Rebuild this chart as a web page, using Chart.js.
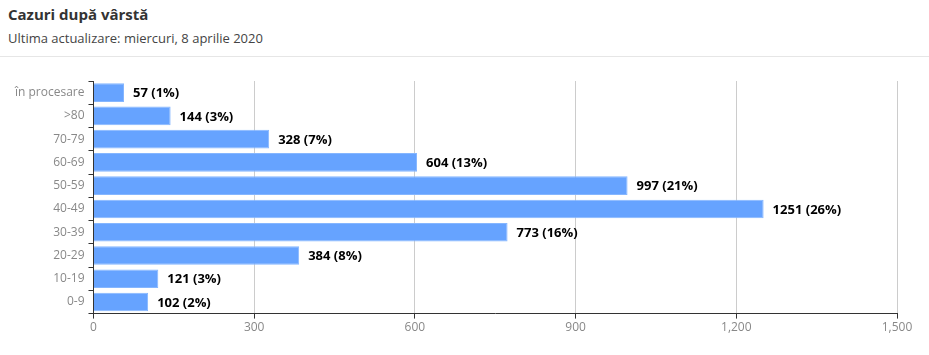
<!doctype html>
<html lang="ro">
<head>
  <meta charset="utf-8">
  <title>Cazuri după vârstă</title>
  <style>
    * { margin: 0; padding: 0; }
    body { width: 929px; height: 355px; background: white; font-family: "Open Sans", sans-serif; overflow: hidden; }
    .header { height: 56px; border-bottom: 1px solid #e6e6e6; padding-left: 8px; }
    .header h1 { font-size: 15px; font-weight: 700; color: #333; padding-top: 4px; line-height: 20px; }
    .header p { font-size: 13px; color: #444; line-height: 18px; padding-top: 5px; }
    .chartBox { position: relative; width: 929px; height: 298px; }
  </style>
</head>
<body>
  <div class="header">
    <h1>Cazuri după vârstă</h1>
    <p>Ultima actualizare: miercuri, 8 aprilie 2020</p>
  </div>
  <div class="chartBox">
    <canvas id="myChart"></canvas>
  </div>

  <script src="https://cdn.jsdelivr.net/npm/chart.js"></script>
  <script>
    // data
    const categories = ['în procesare', '>80', '70-79', '60-69', '50-59', '40-49', '30-39', '20-29', '10-19', '0-9'];
    const cases = [57, 144, 328, 604, 997, 1251, 773, 384, 121, 102];
    const percents = [1, 3, 7, 13, 21, 26, 16, 8, 3, 2];
    const xTicks = [0, 300, 600, 900, 1200, 1500];

    // labels at the end of each bar
    const barLabels = {
      id: 'barLabels',
      afterDatasetsDraw(chart) {
        const ctx = chart.ctx;
        const meta = chart.getDatasetMeta(0);
        ctx.save();
        ctx.font = 'bold 13px "Open Sans", sans-serif';
        ctx.fillStyle = '#000';
        ctx.textBaseline = 'middle';
        ctx.textAlign = 'left';
        meta.data.forEach((bar, i) => {
          ctx.fillText(cases[i] + ' (' + percents[i] + '%)', bar.x + 9, bar.y + 1);
        });
        ctx.restore();
      }
    };

    const config = {
      type: 'bar',
      data: {
        labels: categories,
        datasets: [{
          data: cases,
          backgroundColor: '#66a3ff',
          borderColor: '#85b6ff',
          borderWidth: 1,
          categoryPercentage: 0.8,
          barPercentage: 1
        }]
      },
      options: {
        indexAxis: 'y',
        responsive: true,
        maintainAspectRatio: false,
        animation: false,
        layout: { padding: { top: 24, right: 32, left: 11, bottom: 18 } },
        scales: {
          x: {
            min: 0,
            max: 1500,
            afterBuildTicks: (axis) => { axis.ticks = xTicks.map(v => ({ value: v })); },
            ticks: {
              color: '#888',
              font: { family: '"Open Sans", sans-serif', size: 12 },
              padding: 2,
              callback: (v) => v.toLocaleString('en-US')
            },
            grid: { color: '#cccccc', tickColor: '#333', tickLength: 5 },
            border: { color: '#333', width: 1 }
          },
          y: {
            ticks: {
              color: '#888',
              font: { family: '"Open Sans", sans-serif', size: 12 },
              padding: 4
            },
            grid: { drawOnChartArea: false, tickColor: '#333', tickLength: 5 },
            border: { color: '#333', width: 1 }
          }
        },
        plugins: {
          legend: { display: false },
          tooltip: { enabled: false }
        }
      },
      plugins: [barLabels]
    };

    new Chart(document.getElementById('myChart'), config);
  </script>
</body>
</html>
